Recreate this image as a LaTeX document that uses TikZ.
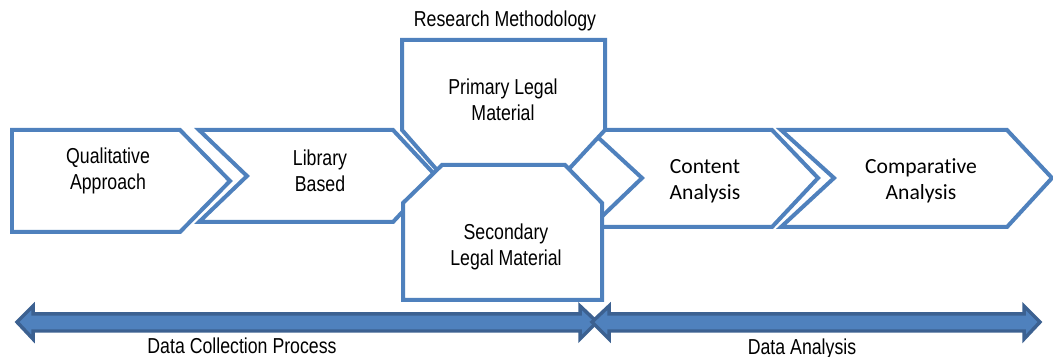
\documentclass[tikz,border=0pt]{standalone}
\usepackage{fontspec}
\setmainfont{Liberation Sans}[FakeStretch=0.82]
\newfontfamily\calibrifont{Carlito}[Ligatures=NoCommon]
\usepackage{tikz}
\usepackage{color}

\definecolor{stepblue}{HTML}{4F81BD}
\definecolor{barblue}{HTML}{3C6191}

\tikzset{
  stage/.style={draw=stepblue, line width=0.08cm, fill=white, line join=miter},
  txt/.style={align=center, font=\fontsize{12.3}{14.7}\selectfont},
  bar/.style={draw=barblue, fill=stepblue, line width=0.07cm, line join=miter}
}

\begin{document}
\begin{tikzpicture}[x=0.02cm,y=-0.02cm]
\useasboundingbox (0,0) rectangle (1053,357);

% process steps
\draw[stage] (12,130) -- (180,130) -- (230,181) -- (180,232) -- (12,232) -- cycle;
\draw[stage] (199,130) -- (393,130) -- (436,176) -- (393,222) -- (199,222) -- (247,176) -- cycle;
\draw[stage] (590,130) -- (772,130) -- (818,178) -- (772,227) -- (591,227) -- (642,178) -- cycle;
\draw[stage] (781,130) -- (1007,130) -- (1052,178) -- (1007,227) -- (781,227) -- (834,178) -- cycle;

% legal material, stacked
\draw[stage] (402,40) -- (605,40) -- (605,130) -- (568,170) -- (437,170) -- (402,130) -- cycle;
\draw[stage] (442,165) -- (565,165) -- (602,203) -- (602,300) -- (403,300) -- (403,203) -- cycle;

\node[txt] (qual) at (108,171) {Qualitative\\Approach};
\node[txt] (lib) at (320,171) {Library\\Based};
\node[txt] (prim) at (503,100) {Primary Legal\\Material};
\node[txt] (sec) at (506,247) {Secondary\\Legal Material};
\node[txt, font=\calibrifont\fontsize{12.3}{14.7}\selectfont] (cont) at (705,181) {Content\\Analysis};
\node[txt, font=\calibrifont\fontsize{12.3}{14.7}\selectfont] (comp) at (921,181) {Comparative\\Analysis};
\node[txt] (meth) at (505,21) {Research Methodology};

% phase bars
\draw[bar] (17,322) -- (33,306) -- (33,314) -- (580,314) -- (580,306) -- (597,322)
  -- (580,339) -- (580,331) -- (33,331) -- (33,339) -- cycle;
\draw[bar] (592,322) -- (609,306) -- (609,314) -- (1024,314) -- (1024,306) -- (1040,322)
  -- (1024,339) -- (1024,331) -- (609,331) -- (609,339) -- cycle;

\node[txt] (collect) at (242,346) {Data Collection Process};
\node[txt] (analysis) at (802,349) {Data Analysis};

\end{tikzpicture}
\end{document}
